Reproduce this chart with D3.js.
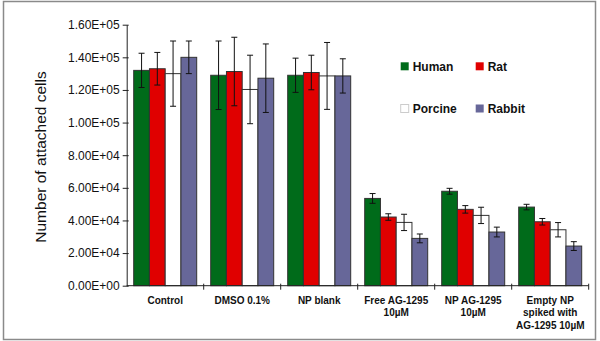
<!DOCTYPE html>
<html>
<head>
<meta charset="utf-8">
<script src="https://cdn.jsdelivr.net/npm/d3@7"></script>
<style>
  body { margin: 0; background: #fff; }
  svg { display: block; font-family: "Liberation Sans", Arial, sans-serif; }
</style>
</head>
<body>
<div id="chart"></div>
<script>
// Data
const categories = ["Control", "DMSO 0.1%", "NP blank", "Free AG-1295\n10µM", "NP AG-1295\n10µM", "Empty NP\nspiked with\nAG-1295 10µM"];
const series = ["Human", "Rat", "Porcine", "Rabbit"];
const colors = ["#006b1a", "#e00000", "#ffffff", "#676799"];

const human  = [132000, 129000, 129000, 53500, 57900, 48200];
const rat    = [133000, 131300, 130700, 42100, 46800, 39200];
const porcine= [130000, 120300, 128600, 38800, 43100, 34300];
const rabbit = [140000, 127200, 128600, 29000, 32900, 24300];

const humanErr  = [10500, 21000, 10500, 3000, 1800, 1700];
const ratErr    = [10000, 21000, 10600, 2000, 2300, 2000];
const porcineErr= [20000, 21000, 20500, 5000, 5000, 4400];
const rabbitErr = [10000, 21000, 10500, 2700, 3000, 2700];

const yTicks = [0, 20000, 40000, 60000, 80000, 100000, 120000, 140000, 160000];

const values = [human, rat, porcine, rabbit];
const errors = [humanErr, ratErr, porcineErr, rabbitErr];

// Flatten for drawing
const data = [];
categories.forEach((c, i) => {
  series.forEach((s, j) => {
    data.push({ cat: c, series: s, value: values[j][i], err: errors[j][i], color: colors[j] });
  });
});

const width = 600, height = 341;
const margin = { top: 24.7, right: 11.3, bottom: 55.3, left: 126.7 };

const svg = d3.select("#chart").append("svg")
  .attr("width", width)
  .attr("height", height);

// Outer frame
svg.append("rect")
  .attr("x", 3.5).attr("y", 1.5)
  .attr("width", 592).attr("height", 338)
  .attr("fill", "none")
  .attr("stroke", "#8a8a8a")
  .attr("stroke-width", 1.5);

const x = d3.scaleBand()
  .domain(categories)
  .range([margin.left, width - margin.right])
  .padding(0);

const xSub = d3.scaleBand()
  .domain(series)
  .range([7, x.bandwidth() - 7])
  .padding(0);

const y = d3.scaleLinear()
  .domain([0, 160000])
  .range([height - margin.bottom, margin.top]);

// Format like Excel scientific, e.g. 1.60E+05
const sci = d => {
  if (d === 0) return "0.00E+00";
  const e = Math.floor(Math.log10(d));
  const m = d / Math.pow(10, e);
  return m.toFixed(2) + "E+" + String(e).padStart(2, "0");
};

// Y axis
const yAxis = svg.append("g")
  .attr("transform", `translate(${margin.left},0)`)
  .call(d3.axisLeft(y).tickValues(yTicks).tickFormat(sci).tickSize(4).tickSizeOuter(0).tickPadding(3));
yAxis.selectAll(".tick line").attr("x2", -4).attr("x1", 2);
yAxis.selectAll("text").style("font-size", "12px").attr("fill", "#111");
yAxis.select(".domain").attr("stroke", "#222");
yAxis.selectAll(".tick line").attr("stroke", "#222");

// Y title
svg.append("text")
  .attr("transform", `translate(46,157) rotate(-90)`)
  .attr("text-anchor", "middle")
  .style("font-size", "15.5px")
  .attr("fill", "#111")
  .text("Number of attached cells");

// Bars
svg.selectAll(".bar")
  .data(data)
  .enter()
  .append("rect")
  .attr("class", "bar")
  .attr("x", d => x(d.cat) + xSub(d.series))
  .attr("y", d => y(d.value))
  .attr("width", xSub.bandwidth())
  .attr("height", d => y(0) - y(d.value))
  .attr("fill", d => d.color)
  .attr("stroke", "#333")
  .attr("stroke-width", 1);

// Error bars
const eb = svg.selectAll(".err")
  .data(data)
  .enter()
  .append("g")
  .attr("class", "err")
  .attr("stroke", "#111")
  .attr("stroke-width", 1);
const cx = d => x(d.cat) + xSub(d.series) + xSub.bandwidth() / 2;
eb.append("line")
  .attr("x1", cx).attr("x2", cx)
  .attr("y1", d => y(d.value + d.err)).attr("y2", d => y(d.value - d.err));
eb.append("line")
  .attr("x1", d => cx(d) - 3).attr("x2", d => cx(d) + 3)
  .attr("y1", d => y(d.value + d.err)).attr("y2", d => y(d.value + d.err));
eb.append("line")
  .attr("x1", d => cx(d) - 3).attr("x2", d => cx(d) + 3)
  .attr("y1", d => y(d.value - d.err)).attr("y2", d => y(d.value - d.err));

// X axis with ticks at category boundaries
const xAxisG = svg.append("g")
  .attr("transform", `translate(0,${y(0)})`);
xAxisG.append("line")
  .attr("x1", margin.left).attr("x2", width - margin.right)
  .attr("stroke", "#222");
xAxisG.selectAll(".bnd")
  .data(categories)
  .enter()
  .append("line")
  .attr("x1", d => x(d) + x.bandwidth()).attr("x2", d => x(d) + x.bandwidth())
  .attr("y1", -2).attr("y2", 4)
  .attr("stroke", "#222");

const labels = svg.selectAll(".cat")
  .data(categories)
  .enter()
  .append("text")
  .attr("class", "cat")
  .attr("text-anchor", "middle")
  .style("font-size", "10px")
  .style("font-weight", "bold")
  .attr("fill", "#111");
labels.each(function(d) {
  const t = d3.select(this);
  d.split("\n").forEach((line, i) => {
    t.append("tspan")
      .attr("x", x(d) + x.bandwidth() / 2)
      .attr("y", 303.5 + i * 12.7)
      .text(line);
  });
});

// Legend
const legendPos = [[400.7, 62.3], [475.7, 62.3], [400.7, 104.5], [475.7, 104.5]];
const legend = svg.selectAll(".legend")
  .data(series)
  .enter()
  .append("g")
  .attr("class", "legend")
  .attr("transform", (d, i) => `translate(${legendPos[i][0]},${legendPos[i][1]})`);
legend.append("rect")
  .attr("width", 8).attr("height", 8)
  .attr("fill", (d, i) => colors[i])
  .attr("stroke", (d, i) => i === 2 ? "#ccc" : "none");
legend.append("text")
  .attr("x", 12).attr("y", 8.3)
  .style("font-size", "12px")
  .style("font-weight", "bold")
  .attr("fill", "#111")
  .text(d => d);
</script>
</body>
</html>
